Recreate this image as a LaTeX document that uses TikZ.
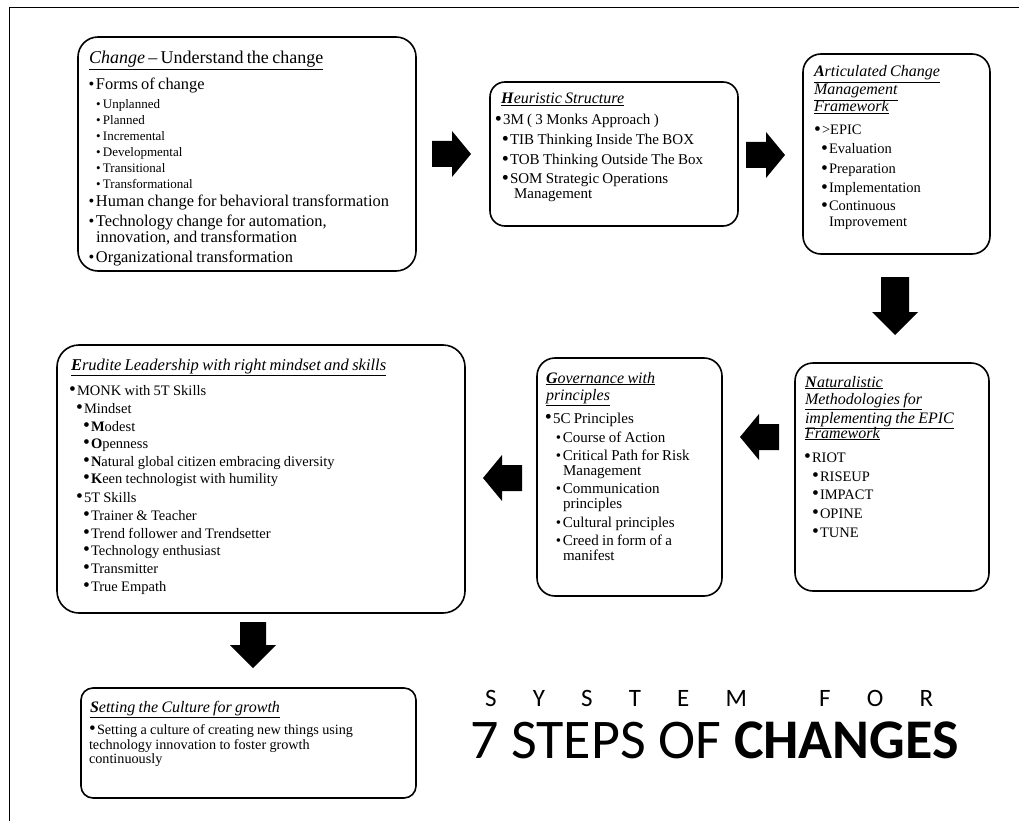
\documentclass[tikz,border=0pt]{standalone}
\usepackage{graphicx}
\usepackage{fontspec}
\setmainfont{Liberation Serif}
\newfontfamily\titlefont{Carlito}

% bullets
\newcommand\smallbul{•}
\newcommand\bigbul{\raisebox{-0.1ex}{\scalebox{1.35}{•}}}
% one line: size, distance from previous baseline, x offset, content
\newcommand\Ln[4]{\baselineskip=#2pt\relax\noindent{\fontsize{#1}{#1}\selectfont\hspace*{#3pt}#4}\par}
% bullet line: size, baseline distance, text x, content (bullet centred 4.5pt left of the text)
\newcommand\Bl[4]{\baselineskip=#2pt\relax\noindent{\fontsize{#1}{#1}\selectfont
  \rlap{\hspace*{\dimexpr#3pt-4.5pt\relax}\makebox[0pt]{\bigbul}}\hspace*{#3pt}#4}\par}
\newcommand\Bs[4]{\baselineskip=#2pt\relax\noindent{\fontsize{#1}{#1}\selectfont
  \rlap{\hspace*{\dimexpr#3pt-4.5pt\relax}\makebox[0pt]{\smallbul}}\hspace*{#3pt}#4}\par}
% zero-height first line so the node top is the reference for baselines
\newcommand\Start{\noindent\hbox{}\par}

\begin{document}
\begin{tikzpicture}[x=1pt,y=-1pt,
  box/.style={draw, line width=1.6pt, rounded corners=#1, anchor=north west,
    inner sep=0pt, outer sep=0pt},
  txt/.style={anchor=north west, inner sep=0pt, outer sep=0pt, text width=500pt,
    execute at begin node={\parskip=0pt\parindent=0pt\lineskiplimit=-1000pt\lineskip=0pt}},
  pics/barrow/.style n args={5}{code={%
    \fill (-#1,-#4) -- (#2,-#4) -- (#2,-#5) -- (#3,0) -- (#2,#5) -- (#2,#4) -- (-#1,#4) -- cycle;}}
]
\useasboundingbox (0,0) rectangle (1019,821);

% outer frame
\draw[line width=1.3pt] (9.5,840) -- (9.5,7.5) -- (1040,7.5);

% ---------- boxes ----------
\node[box=20pt, minimum width=338pt, minimum height=234pt] (b1) at (78,37) {};
\node[box=15pt, minimum width=248pt, minimum height=144pt] (b2) at (490,82) {};
\node[box=18pt, minimum width=187pt, minimum height=200pt] (b3) at (803,54) {};
\node[box=18pt, minimum width=194pt, minimum height=228pt] (b4) at (795,363) {};
\node[box=18pt, minimum width=185pt, minimum height=238pt] (b5) at (537,358) {};
\node[box=22pt, minimum width=408pt, minimum height=268pt] (b6) at (57,345) {};
\node[box=12pt, minimum width=335pt, minimum height=110pt] (b7) at (81,688) {};

% ---------- texts ----------
\node[txt] (t1) at (b1.north west) {\Start
\Ln{18}{27}{11}{\underline{\textit{Change} – Understand the change}}
\Bs{16.4}{26}{18}{Forms of change}
\Bs{13}{19}{25}{Unplanned}
\Bs{13}{16}{25}{Planned}
\Bs{13}{16}{25}{Incremental}
\Bs{13}{16}{25}{Developmental}
\Bs{13}{16}{25}{Transitional}
\Bs{13}{16}{25}{Transformational}
\Bs{16.4}{18}{18}{Human change for behavioral transformation}
\Bs{16.4}{20}{18}{Technology change for automation,}
\Ln{16.4}{16}{18}{innovation, and transformation}
\Bs{16.4}{20}{18}{Organizational transformation}};

\node[txt] (t2) at (b2.north west) {\Start
\Ln{16}{22}{11}{\underline{\textbf{\textit{H}}\textit{euristic Structure}}}
\Bl{15}{21}{13}{3M ( 3 Monks Approach )}
\Bl{15}{20}{20}{TIB Thinking Inside The BOX}
\Bl{15}{20}{20}{TOB Thinking Outside The Box}
\Bl{15}{19}{20}{SOM Strategic Operations}
\Ln{15}{15}{24}{Management}};

\node[txt] (t3) at (b3.north west) {\Start
\Ln{16}{23}{11}{\underline{\textbf{\textit{A}}\textit{rticulated Change}}}
\Ln{16}{18}{11}{\underline{\textit{Management}}}
\Ln{16}{17}{11}{\underline{\textit{Framework}}}
\Bl{14.5}{23}{19}{>EPIC}
\Bl{14.5}{19}{26}{Evaluation}
\Bl{14.5}{20}{26}{Preparation}
\Bl{14.5}{19}{26}{Implementation}
\Bl{14.5}{18}{26}{Continuous}
\Ln{14.5}{16}{26}{Improvement}};

\node[txt] (t4) at (b4.north west) {\Start
\Ln{16}{24}{10}{\underline{\textbf{\textit{N}}\textit{aturalistic}}}
\Ln{16}{17}{10}{\underline{\textit{Methodologies for}}}
\Ln{16}{19}{10}{\underline{\textit{implementing the EPIC}}}
\Ln{16}{15}{10}{\underline{\textit{Framework}}}
\Bl{14.5}{24}{17}{RIOT}
\Bl{14.5}{19}{25}{RISEUP}
\Bl{14.5}{18}{25}{IMPACT}
\Bl{14.5}{19}{25}{OPINE}
\Bl{14.5}{19}{25}{TUNE}};

\node[txt] (t5) at (b5.north west) {\Start
\Ln{16}{25}{9}{\underline{\textbf{\textit{G}}\textit{overnance with}}}
\Ln{16}{17}{9}{\underline{\textit{principles}}}
\Bl{15}{23}{16}{5C Principles}
\Bs{15}{19}{26}{Course of Action}
\Bs{15}{18}{26}{Critical Path for Risk}
\Ln{15}{15}{26}{Management}
\Bs{15}{18}{26}{Communication}
\Ln{15}{15}{26}{principles}
\Bs{15}{19}{26}{Cultural principles}
\Bs{15}{18}{26}{Creed in form of a}
\Ln{15}{15}{26}{manifest}};

\node[txt] (t6) at (b6.north west) {\Start
\Ln{16.5}{25}{14}{\underline{\textbf{\textit{E}}\textit{rudite Leadership with right mindset and skills}}}
\Bl{14.5}{25}{20}{MONK with 5T Skills}
\Bl{14.5}{18}{27}{Mindset}
\Bl{14.5}{18}{34}{\textbf{M}odest}
\Bl{14.5}{17}{34}{\textbf{O}penness}
\Bl{14.5}{18}{34}{\textbf{N}atural global citizen embracing diversity}
\Bl{14.5}{17}{34}{\textbf{K}een technologist with humility}
\Bl{14.5}{19}{27}{5T Skills}
\Bl{14.5}{18}{34}{Trainer \& Teacher}
\Bl{14.5}{18}{34}{Trend follower and Trendsetter}
\Bl{14.5}{17}{34}{Technology enthusiast}
\Bl{14.5}{18}{34}{Transmitter}
\Bl{14.5}{18}{34}{True Empath}};

\node[txt] (t7) at (b7.north west) {\Start
\Ln{16}{24}{9}{\underline{\textbf{\textit{S}}\textit{etting the Culture for growth}}}
\Bl{14.2}{22}{16}{Setting a culture of creating new things using}
\Ln{14.2}{15}{8}{technology innovation to foster growth}
\Ln{14.2}{14}{8}{continuously}};

% ---------- block arrows ----------
\pic at (452,154) {barrow={20}{0}{19}{13}{23}};
\pic at (766,155) {barrow={20}{0}{19}{13}{23}};
\pic[rotate=-90] at (895,306) {barrow={29}{6}{29}{14}{23}};
\pic[rotate=180] at (759,437) {barrow={20}{0}{19}{13}{23}};
\pic[rotate=180] at (502,478) {barrow={20}{0}{19}{13}{23}};
\pic[rotate=-90] at (253,645) {barrow={23}{0}{23}{13}{23}};

% ---------- heading ----------
\node[anchor=base west, inner sep=0pt, font=\titlefont\fontsize{25}{25}\selectfont] (sys) at (485,706)
  {\hbox to 448pt{S\hfill Y\hfill S\hfill T\hfill E\hfill M\hfill\hfill F\hfill O\hfill R}};
\node[anchor=base west, inner sep=0pt, font=\titlefont\fontsize{56}{56}\selectfont] (steps) at (470,758)
  {7 STEPS OF \textbf{CHANGES}};
\end{tikzpicture}
\end{document}
